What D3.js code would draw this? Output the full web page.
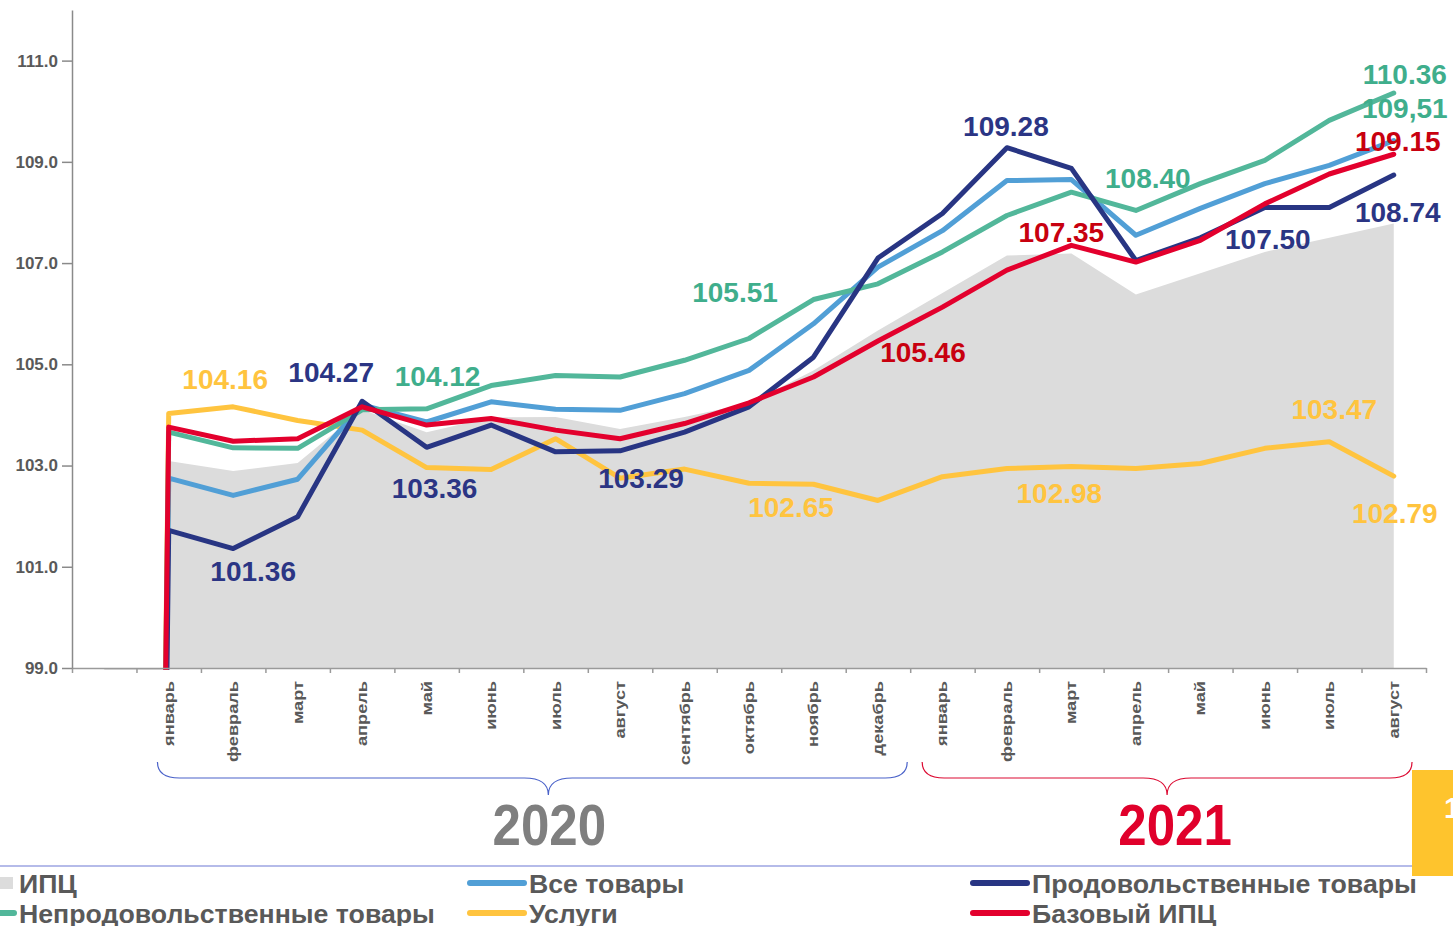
<!DOCTYPE html>
<html>
<head>
<meta charset="utf-8">
<script src="https://cdn.jsdelivr.net/npm/d3@7"></script>
<style>
  body { margin: 0; background: #fff; }
  svg { display: block; font-family: "Liberation Sans", Arial, sans-serif; }
</style>
</head>
<body>
<svg class="cpi-svg" width="1453" height="926"></svg>
<script>
// categories: first slot is the empty December 2019 column
const months = ['', 'январь', 'февраль', 'март', 'апрель', 'май', 'июнь', 'июль', 'август',
  'сентябрь', 'октябрь', 'ноябрь', 'декабрь',
  'январь', 'февраль', 'март', 'апрель', 'май', 'июнь', 'июль', 'август']

const cpi = [0, 103.09, 102.89, 103.05, 104.10, 103.66, 103.95, 103.96, 103.72, 103.96, 104.23, 104.88, 105.67,
  106.41, 107.15, 107.19, 106.38, 106.80, 107.22, 107.50, 107.78]
const allGoods = [0, 102.75, 102.41, 102.73, 104.20, 103.86, 104.26, 104.11, 104.09, 104.42, 104.88, 105.80, 106.92,
  107.64, 108.63, 108.65, 107.55, 108.08, 108.57, 108.93, 109.42]
const food = [0, 101.72, 101.36, 101.99, 104.27, 103.36, 103.80, 103.27, 103.29, 103.66, 104.16, 105.14, 107.10,
  107.98, 109.28, 108.87, 107.05, 107.50, 108.10, 108.10, 108.74]
const nonFood = [0, 103.66, 103.35, 103.34, 104.10, 104.12, 104.58, 104.78, 104.75, 105.08, 105.51, 106.28, 106.59,
  107.22, 107.94, 108.40, 108.04, 108.57, 109.03, 109.82, 110.36]
const services = [0, 104.03, 104.16, 103.89, 103.70, 102.96, 102.92, 103.53, 102.75, 102.93, 102.65, 102.63, 102.31,
  102.78, 102.94, 102.98, 102.94, 103.04, 103.34, 103.47, 102.79]
const core = [0, 103.76, 103.48, 103.53, 104.16, 103.80, 103.93, 103.70, 103.53, 103.83, 104.24, 104.75, 105.46,
  106.13, 106.86, 107.35, 107.02, 107.45, 108.17, 108.76, 109.15]

const yTicks = [99, 101, 103, 105, 107, 109, 111]
const years = ['2020', '2021']

// value labels: text, series it sits on, category index
const labelTexts = ['104.16', '104.27', '104.12', '101.36', '103.36', '103.29', '102.65', '105.51', '105.46', '109.28',
  '107.35', '108.40', '102.98', '107.50', '103.47', '110.36', '109,51', '109.15', '108.74', '102.79']
const labelSeries = ['services', 'food', 'nonFood', 'food', 'food', 'food', 'services', 'nonFood', 'core', 'food',
  'core', 'nonFood', 'services', 'food', 'services', 'nonFood', 'allGoods', 'core', 'food', 'services']
const labelIdx = [2, 4, 5, 2, 5, 8, 10, 10, 12, 14, 15, 16, 15, 18, 19, 20, 20, 20, 20, 20]

const svg = d3.select('.cpi-svg')

const colors = {
  cpi: '#dcdcdc',
  allGoods: '#519fd6',
  food: '#283583',
  nonFood: '#52b79a',
  services: '#ffc43f',
  core: '#e3002d'
}
const labelColors = {
  allGoods: '#3fae8c',
  food: '#2b3584',
  nonFood: '#3fae8c',
  services: '#ffc43f',
  core: '#c8000f'
}
const seriesData = { cpi, allGoods, food, nonFood, services, core }

const xScale = d3.scaleBand().domain(d3.range(months.length)).range([72, 1426])
const bw = xScale.bandwidth()
const xEdge = d3.scaleLinear().domain([0, months.length]).range(xScale.range())
const yScale = d3.scaleLinear().domain([99, 112]).range([668, 10])
const cx = i => xScale(i) + bw / 2

svg.append('defs').append('clipPath').attr('id', 'plot-clip')
  .append('rect')
  .attr('x', 72).attr('y', 10)
  .attr('width', 1453 - 72).attr('height', yScale(99) - 10 + 2)

const plot = svg.append('g').attr('clip-path', 'url(#plot-clip)')

// grey area for CPI
plot.append('path')
  .datum(cpi)
  .attr('fill', colors.cpi)
  .attr('d', d3.area()
    .x((d, i) => cx(i))
    .y0(yScale(99))
    .y1(d => yScale(d)))

// x axis (ticks between months)
const xAxis = svg.append('g')
  .attr('transform', 'translate(0,' + yScale(99) + ')')
  .call(d3.axisBottom(xEdge).tickValues(d3.range(months.length + 1)).tickFormat('').tickSize(5).tickSizeOuter(0))
xAxis.selectAll('path, line').attr('stroke', '#9a9a9a').attr('stroke-width', 1.5)

xAxis.selectAll('.month')
  .data(months)
  .enter().append('text')
  .attr('class', 'month')
  .attr('transform', (d, i) => 'translate(' + (cx(i) + 5) + ',13) rotate(-90) scale(1.3,1)')
  .attr('text-anchor', 'end')
  .attr('fill', '#595959')
  .style('font-size', '14px')
  .style('font-weight', 'bold')
  .text(d => d)

// y axis
const yAxis = svg.append('g')
  .attr('transform', 'translate(72,0)')
  .call(d3.axisLeft(yScale).tickValues(yTicks).tickFormat(d3.format('.1f')).tickSize(10).tickSizeOuter(0).tickPadding(4))
yAxis.select('.domain').attr('stroke', '#8a8a8a').attr('stroke-width', 1.5)
yAxis.selectAll('line').attr('stroke', '#8a8a8a').attr('stroke-width', 1.5)
yAxis.selectAll('text')
  .attr('fill', '#595959')
  .style('font-size', '17px')
  .style('font-weight', 'bold')
  .style('font-family', '"Liberation Sans", Arial, sans-serif')

// lines
const line = d3.line()
  .x((d, i) => cx(i))
  .y(d => yScale(d))

const lineOrder = ['services', 'allGoods', 'nonFood', 'food', 'core']
lineOrder.forEach(function (key) {
  plot.append('path')
    .datum(seriesData[key])
    .attr('fill', 'none')
    .attr('stroke', colors[key])
    .attr('stroke-width', 5)
    .attr('stroke-linejoin', 'round')
    .attr('stroke-linecap', 'round')
    .attr('d', line)
})

// value labels
const labelOffsets = [[-8, -28], [-31, -29], [11, -33], [20, 22], [8, 41], [21, 27], [42, 24], [-14, -46], [45, 11],
  [-1, -22], [-10, -13], [12, -32], [-12, 26], [3, 32], [5, -33], [11, -19], [11, -33], [4, -13], [4, 37], [1, 37]]
svg.append('g').selectAll('text')
  .data(labelTexts)
  .enter().append('text')
  .attr('x', (d, i) => cx(labelIdx[i]) + labelOffsets[i][0])
  .attr('y', (d, i) => yScale(seriesData[labelSeries[i]][labelIdx[i]]) + labelOffsets[i][1] + 10)
  .attr('text-anchor', 'middle')
  .attr('fill', (d, i) => labelColors[labelSeries[i]])
  .style('font-size', '28px')
  .style('font-weight', 'bold')
  .text(d => d)

// year braces
const braces = [
  { year: years[0], from: 1, to: 12, l: 21, r: -3, tip: 16, tx: 17, color: '#4a62c9', text: '#7f7f7f' },
  { year: years[1], from: 13, to: 20, l: 12, r: -14, tip: 0, tx: 8, color: '#dc0a32', text: '#e0002b' }
]
braces.forEach(function (b) {
  const x1 = xScale(b.from) + b.l
  const x2 = xScale(b.to) + bw + b.r
  const xc = (x1 + x2) / 2 + b.tip
  const yt = 762
  const ym = 778
  const yp = 795
  svg.append('path')
    .attr('fill', 'none')
    .attr('stroke', b.color)
    .attr('stroke-width', 1.2)
    .attr('d', 'M' + x1 + ',' + yt + ' Q' + x1 + ',' + ym + ' ' + (x1 + 22) + ',' + ym +
      ' L' + (xc - 24) + ',' + ym + ' Q' + xc + ',' + ym + ' ' + xc + ',' + yp +
      ' Q' + xc + ',' + ym + ' ' + (xc + 24) + ',' + ym +
      ' L' + (x2 - 22) + ',' + ym + ' Q' + x2 + ',' + ym + ' ' + x2 + ',' + yt)
  svg.append('text')
    .attr('transform', 'translate(' + ((x1 + x2) / 2 + b.tx) + ',' + 845 + ') scale(0.88,1)')
    .attr('text-anchor', 'middle')
    .attr('fill', b.text)
    .style('font-size', '58px')
    .style('font-weight', 'bold')
    .text(b.year)
})

// separator and yellow tab
svg.append('line')
  .attr('x1', 0).attr('x2', 1453)
  .attr('y1', 866).attr('y2', 866)
  .attr('stroke', '#b5bbe9').attr('stroke-width', 2)
svg.append('rect')
  .attr('x', 1412).attr('y', 770)
  .attr('width', 41).attr('height', 106)
  .attr('fill', '#fec42d')
svg.append('text')
  .attr('x', 1444).attr('y', 818)
  .attr('fill', '#fff')
  .style('font-size', '30px')
  .style('font-weight', 'bold')
  .text('1')

// legend
const legendNames = ['ИПЦ', 'Все товары', 'Продовольственные товары', 'Непродовольственные товары', 'Услуги', 'Базовый ИПЦ']
const legendKeys = ['cpi', 'allGoods', 'food', 'nonFood', 'services', 'core']
const legendCols = [14, 524, 1027]
const legendRows = [883, 913]

const legend = svg.append('g')
legendKeys.forEach(function (key, i) {
  const lx = legendCols[i % 3]
  const ly = legendRows[Math.floor(i / 3)]
  if (key === 'cpi') {
    legend.append('rect')
      .attr('x', lx - 14).attr('y', ly - 6)
      .attr('width', 13).attr('height', 12)
      .attr('fill', colors.cpi)
  } else {
    legend.append('line')
      .attr('x1', lx - 54).attr('x2', lx)
      .attr('y1', ly).attr('y2', ly)
      .attr('stroke', colors[key])
      .attr('stroke-width', 6)
      .attr('stroke-linecap', 'round')
  }
  legend.append('text')
    .attr('x', lx + 5)
    .attr('y', ly + 10)
    .attr('fill', '#595959')
    .style('font-size', '26.7px')
    .style('font-weight', 'bold')
    .text(legendNames[i])
})
</script>
</body>
</html>
